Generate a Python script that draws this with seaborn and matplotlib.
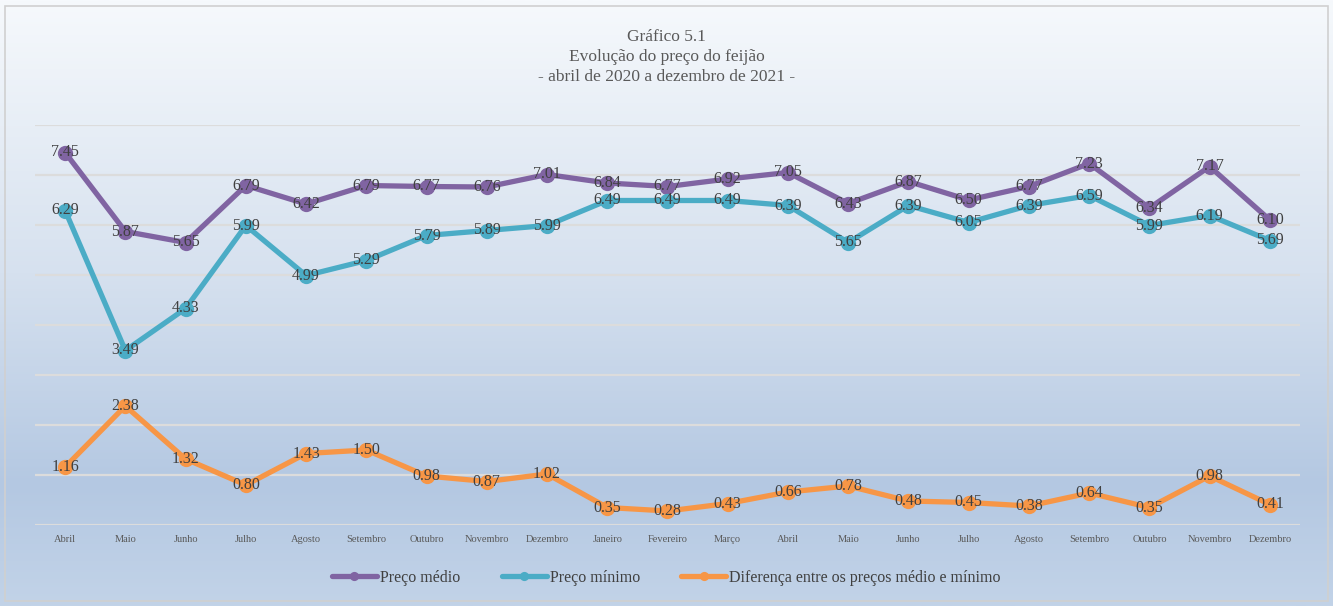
import numpy as np
import pandas as pd
import matplotlib
matplotlib.use('Agg')
import matplotlib.pyplot as plt
import seaborn as sns
from matplotlib.patches import Rectangle
from matplotlib.colors import LinearSegmentedColormap

months = ['Abril', 'Maio', 'Junho', 'Julho', 'Agosto', 'Setembro', 'Outubro',
          'Novembro', 'Dezembro', 'Janeiro', 'Fevereiro', 'Março', 'Abril', 'Maio',
          'Junho', 'Julho', 'Agosto', 'Setembro', 'Outubro', 'Novembro', 'Dezembro']

preco_medio = [7.45, 5.87, 5.65, 6.79, 6.42, 6.79, 6.77, 6.76, 7.01, 6.84, 6.77,
               6.92, 7.05, 6.43, 6.87, 6.50, 6.77, 7.23, 6.34, 7.17, 6.10]
preco_minimo = [6.29, 3.49, 4.33, 5.99, 4.99, 5.29, 5.79, 5.89, 5.99, 6.49, 6.49,
                6.49, 6.39, 5.65, 6.39, 6.05, 6.39, 6.59, 5.99, 6.19, 5.69]
diferenca = [1.16, 2.38, 1.32, 0.80, 1.43, 1.50, 0.98, 0.87, 1.02, 0.35, 0.28,
             0.43, 0.66, 0.78, 0.48, 0.45, 0.38, 0.64, 0.35, 0.98, 0.41]

series_names = ['Preço médio', 'Preço mínimo', 'Diferença entre os preços médio e mínimo']
colors = ['#8064a2', '#4bacc6', '#f79646']

sns.set_style('white')
plt.rcParams['font.family'] = ['Liberation Serif', 'DejaVu Serif']

fig = plt.figure(figsize=(13.33, 6.06), dpi=100)

# background gradient over the whole chart frame
bg = fig.add_axes([0, 0, 1, 1], zorder=-10)
grad_cmap = LinearSegmentedColormap.from_list(
    'bg', [(0.0, '#f6f9fc'), (0.45, '#d6e1ef'), (0.8, '#b4c8e2'), (1.0, '#c2d3e8')])
bg.imshow(np.linspace(0, 1, 256).reshape(-1, 1), aspect='auto', cmap=grad_cmap,
          extent=[0, 1, 0, 1], origin='upper')
bg.set_xlim(0, 1)
bg.set_ylim(0, 1)
bg.axis('off')
fig.patches.append(Rectangle((0.004, 0.008), 0.992, 0.982, transform=fig.transFigure,
                             fill=False, edgecolor='#d0d0d0', lw=1.2, zorder=5))

ax = fig.add_axes([35 / 1333, 1 - 525 / 606, 1265 / 1333, 400 / 606])
ax.patch.set_alpha(0)

x = np.arange(len(months))
df = pd.DataFrame({'x': x, 'medio': preco_medio, 'minimo': preco_minimo, 'dif': diferenca})

for col, name, c in zip(['medio', 'minimo', 'dif'], series_names, colors):
    sns.lineplot(data=df, x='x', y=col, ax=ax, color=c, lw=3.8, marker='o',
                 markersize=11, markeredgewidth=0, label=name, zorder=3)
    for xi, v in zip(df['x'], df[col]):
        ax.text(xi, v, f'{v:.2f}', ha='center', va='center', fontsize=11.5,
                color='#404040', zorder=4)

ax.set_xlim(-0.5, 20.5)
ax.set_ylim(0, 8)
ax.set_yticks(np.arange(0, 9, 1))
ax.yaxis.grid(True, color='#dcdcdc', lw=1.6)
ax.set_axisbelow(True)
ax.set_yticklabels([])
ax.tick_params(axis='y', length=0)
ax.set_xticks(x)
ax.set_xticklabels(months, fontsize=7.5, color='#595959')
ax.tick_params(axis='x', length=0, pad=7)
ax.set_xlabel('')
ax.set_ylabel('')
for s in ax.spines.values():
    s.set_visible(False)

handles, labels = ax.get_legend_handles_labels()
ax.legend_.remove()
fig.legend(handles, labels, loc='center', bbox_to_anchor=(0.5, 1 - 578 / 606), ncol=3,
           frameon=False, fontsize=11.5, handlelength=2.8, columnspacing=2.6,
           handletextpad=0.2, labelcolor='#404040', markerscale=0.6)

fig.text(0.5, 1 - 37 / 606, 'Gráfico 5.1', ha='center', va='center', fontsize=12.5, color='#595959')
fig.text(0.5, 1 - 57 / 606, 'Evolução do preço do feijão', ha='center', va='center',
         fontsize=12.5, color='#595959')
fig.text(0.5, 1 - 77 / 606, '- abril de 2020 a dezembro de 2021 -', ha='center', va='center',
         fontsize=12.5, color='#595959')

fig.savefig('out.png', dpi=100)
